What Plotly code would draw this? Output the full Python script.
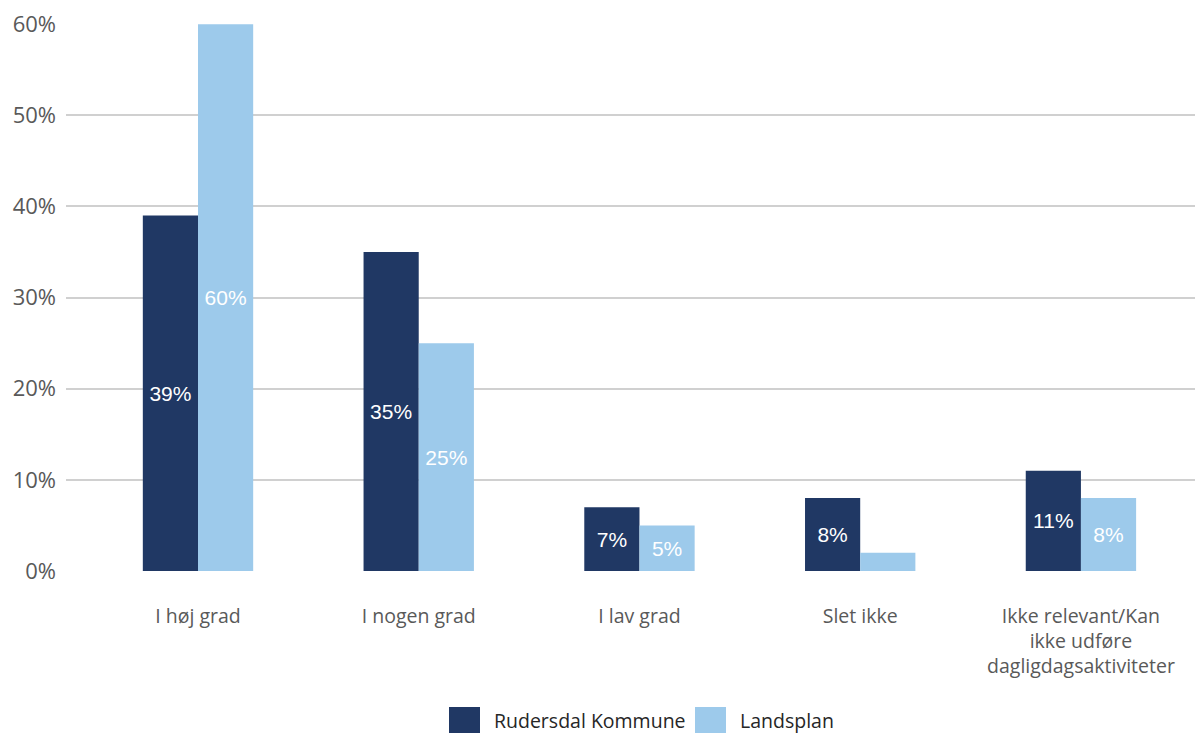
import plotly.graph_objects as go

categories = ["I høj grad", "I nogen grad", "I lav grad", "Slet ikke",
              "Ikke relevant/Kan<br>ikke udføre<br>dagligdagsaktiviteter"]
series_names = ["Rudersdal Kommune", "Landsplan"]
rudersdal = [39, 35, 7, 8, 11]
landsplan = [60, 25, 5, 2, 8]
rudersdal_labels = ["39%", "35%", "7%", "8%", "11%"]
landsplan_labels = ["60%", "25%", "5%", "", "8%"]
y_ticks = [0, 10, 20, 30, 40, 50, 60]
y_tick_labels = ["0%", "10%", "20%", "30%", "40%", "50%", "60%"]
colors = ["#203864", "#9dcaeb"]

x = list(range(len(categories)))

fig = go.Figure()
for name, vals, labels, col in [(series_names[0], rudersdal, rudersdal_labels, colors[0]),
                                (series_names[1], landsplan, landsplan_labels, colors[1])]:
    fig.add_trace(go.Bar(
        x=x, y=vals, name=name, showlegend=False,
        marker=dict(color=col, line=dict(width=0)),
        text=labels, textposition="inside", insidetextanchor="middle",
        textfont=dict(color="white", size=21, family="Liberation Sans, Arial"),
        textangle=0, cliponaxis=False, hoverinfo="skip",
    ))

# Manual legend (large square swatches like the reference)
W, H = 1137.0, 547.0
legend_items = [(series_names[0], colors[0], 449 - 66, 492 - 66),
                (series_names[1], colors[1], 695 - 66, 738 - 66)]
for name, col, sq_left, txt_left in legend_items:
    fig.add_shape(type="rect", xref="paper", yref="paper",
                  x0=sq_left / W, x1=(sq_left + 31) / W,
                  y0=-(707 - 571) / H, y1=-(733 - 571) / H,
                  fillcolor=col, line=dict(width=0), layer="above")
    fig.add_annotation(xref="paper", yref="paper", x=txt_left / W, y=-(720 - 571) / H,
                       text=name, showarrow=False, xanchor="left", yanchor="middle",
                       font=dict(size=19.5, color="#262626", family="Open Sans, sans-serif"))

fig.update_layout(
    width=1195, height=726,
    margin=dict(l=58, r=0, t=16, b=163, autoexpand=False),
    paper_bgcolor="white", plot_bgcolor="white",
    barmode="group", bargap=0.5, bargroupgap=0,
    showlegend=False,
    font=dict(family="Open Sans, sans-serif", color="#595959"),
    xaxis=dict(
        tickmode="array", tickvals=x, ticktext=categories,
        range=[-0.598, 4.553], showgrid=False, zeroline=False,
        showline=False, ticks="", ticklabelstandoff=31,
        tickfont=dict(size=19.5, color="#595959"),
    ),
    yaxis=dict(
        range=[0, 60.02], tickmode="array", tickvals=y_ticks, ticktext=y_tick_labels,
        showgrid=True, gridcolor="#d0d0d0", gridwidth=2,
        zeroline=False, showline=False, ticks="", ticklabelstandoff=9,
        ticklabeloverflow="allow",
        tickfont=dict(size=22, color="#595959"),
    ),
)

fig.write_html("out.html")
